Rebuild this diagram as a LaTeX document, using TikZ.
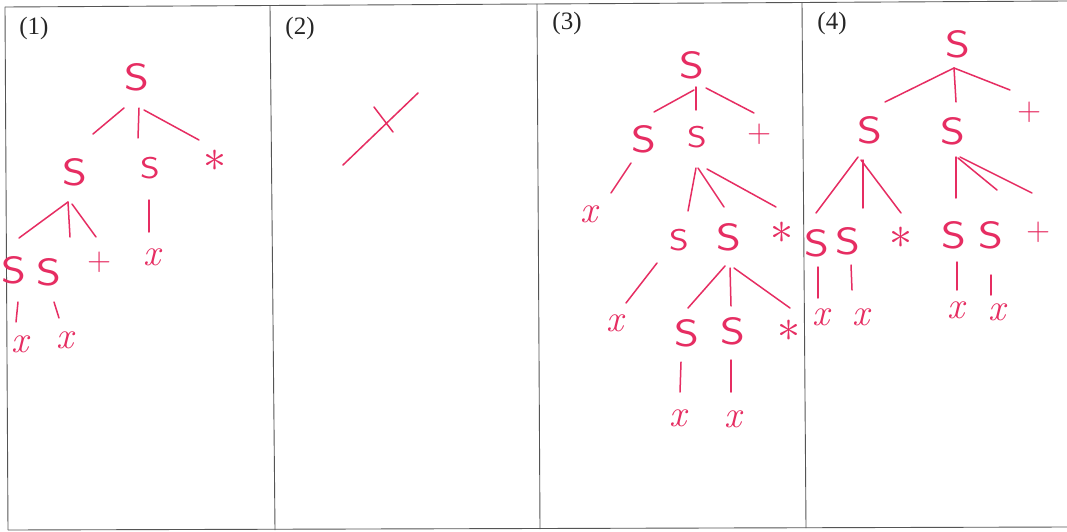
\RequirePackage{fix-cm}
\documentclass[tikz,border=0pt]{standalone}
\usepackage{fontspec}
\newfontfamily\labfont{Liberation Serif}
\newcommand\wideS{\scalebox{1.25}[1]{S}}
\definecolor{pen}{RGB}{230,45,98}
\definecolor{rulegrey}{RGB}{85,85,85}
\begin{document}
\begin{tikzpicture}[x=1pt,y=-1pt,
  every node/.style={inner sep=0pt,text=pen},
  bigS/.style={font=\sffamily\fontsize{38}{38}\selectfont},
  midS/.style={font=\sffamily\fontsize{30}{30}\selectfont},
  xs/.style={font=\itshape\fontsize{38}{38}\selectfont},
  ast/.style={font=\fontsize{46}{46}\selectfont},
  pls/.style={font=\sffamily\fontsize{33}{33}\selectfont},
  lab/.style={font=\labfont\fontsize{25}{25}\selectfont,text=black!85},
  edge/.style={draw=pen,line width=1.5pt,line cap=round},
  tabline/.style={draw=rulegrey,line width=0.9pt}]
\useasboundingbox (0,0) rectangle (1067,532);
\fill[white] (0,0) rectangle (1067,532);
% table
\coordinate (tl) at (5,7);   \coordinate (tr) at (1067,1);
\coordinate (bl) at (8,530); \coordinate (br) at (1067,527);
\draw[tabline] (tl) -- (tr);
\draw[tabline] (bl) -- (br);
\draw[tabline] (tl) -- (bl);
\draw[tabline] (270,6) -- (275,530);
\draw[tabline] (537,4) -- (540,529);
\draw[tabline] (802,3) -- (806,528);
% labels
\node[lab] (L1) at (34,28) {(1)};
\node[lab] (L2) at (300,28) {(2)};
\node[lab] (L3) at (567,23) {(3)};
\node[lab] (L4) at (832,23) {(4)};
% ---------- panel 1
\node[bigS] (a0) at (137,77) {\wideS};
\node[bigS] (a1) at (75,172) {\wideS};
\node[midS] (a2) at (150,168) {\wideS};
\node[ast]  (a3) at (215,161) {$\ast$};
\node[bigS] (a4) at (14,270) {\wideS};
\node[bigS] (a5) at (49,272) {\wideS};
\node[pls]  (a6) at (100,262) {+};
\node[xs]   (a7) at (152,257) {x};
\node[xs]   (a8) at (20,344) {x};
\node[xs]   (a9) at (65,340) {x};
\draw[edge] ([shift={(-13,31)}]a0.center) -- ([shift={(18,-38)}]a1.center);
\draw[edge] ([shift={(2,31)}]a0.center) -- ([shift={(-12,-30)}]a2.center);
\draw[edge] ([shift={(7,33)}]a0.center) -- ([shift={(-16,-21)}]a3.center);
\draw[edge] ([shift={(-7,30)}]a1.center) -- ([shift={(5,-32)}]a4.center);
\draw[edge] ([shift={(-7,30)}]a1.center) -- ([shift={(21,-35)}]a5.center);
\draw[edge] ([shift={(-3,32)}]a1.center) -- ([shift={(-4,-25)}]a6.center);
\draw[edge] ([shift={(-1,32)}]a2.center) -- ([shift={(-3,-25)}]a7.center);
\draw[edge] ([shift={(4,32)}]a4.center) -- ([shift={(-4,-22)}]a8.center);
\draw[edge] ([shift={(5,30)}]a5.center) -- ([shift={(-6,-22)}]a9.center);
% ---------- panel 2
\coordinate (b0) at (343,165);
\coordinate (b1) at (418,93);
\coordinate (b2) at (374,107);
\coordinate (b3) at (393,132);
\draw[edge] (b0) -- (b1);
\draw[edge] (b2) -- (b3);
% ---------- panel 3
\node[bigS] (c0) at (692,65) {\wideS};
\node[bigS] (c1) at (644,139) {\wideS};
\node[midS] (c2) at (697,137) {\wideS};
\node[pls]  (c3) at (760,134) {+};
\node[xs]   (c4) at (589,214) {x};
\node[midS] (c5) at (679,240) {\wideS};
\node[bigS] (c6) at (729,237) {\wideS};
\node[ast]  (c7) at (782,233) {$\ast$};
\node[xs]   (c8) at (615,323) {x};
\node[bigS] (c9) at (687,333) {\wideS};
\node[bigS] (c10) at (733,331) {\wideS};
\node[ast]  (c11) at (789,331) {$\ast$};
\node[xs]   (c12) at (678,418) {x};
\node[xs]   (c13) at (733,419) {x};
\draw[edge] ([shift={(2,25)}]c0.center) -- ([shift={(10,-27)}]c1.center);
\draw[edge] ([shift={(4,22)}]c0.center) -- ([shift={(-1,-27)}]c2.center);
\draw[edge] ([shift={(14,23)}]c0.center) -- ([shift={(-6,-21)}]c3.center);
\draw[edge] ([shift={(-13,24)}]c1.center) -- ([shift={(22,-21)}]c4.center);
\draw[edge] ([shift={(-1,31)}]c2.center) -- ([shift={(9,-29)}]c5.center);
\draw[edge] ([shift={(1,31)}]c2.center) -- ([shift={(-5,-30)}]c6.center);
\draw[edge] ([shift={(10,32)}]c2.center) -- ([shift={(-6,-26)}]c7.center);
\draw[edge] ([shift={(-22,23)}]c5.center) -- ([shift={(11,-20)}]c8.center);
\draw[edge] ([shift={(-4,29)}]c6.center) -- ([shift={(1,-25)}]c9.center);
\draw[edge] ([shift={(1,31)}]c6.center) -- ([shift={(-2,-25)}]c10.center);
\draw[edge] ([shift={(5,31)}]c6.center) -- ([shift={(1,-23)}]c11.center);
\draw[edge] ([shift={(-6,29)}]c9.center) -- ([shift={(2,-26)}]c12.center);
\draw[edge] ([shift={(-2,29)}]c10.center) -- ([shift={(-2,-27)}]c13.center);
% ---------- panel 4
\node[bigS] (d0) at (958,44) {\wideS};
\node[bigS] (d1) at (870,130) {\wideS};
\node[bigS] (d2) at (953,131) {\wideS};
\node[pls]  (d3) at (1030,112) {+};
\node[bigS] (d4) at (817,243) {\wideS};
\node[bigS] (d5) at (848,241) {\wideS};
\node[ast]  (d6) at (901,238) {$\ast$};
\node[bigS] (d7) at (954,235) {\wideS};
\node[bigS] (d8) at (991,235) {\wideS};
\node[pls]  (d9) at (1039,232) {+};
\node[xs]   (d10) at (821,317) {x};
\node[xs]   (d11) at (861,317) {x};
\node[xs]   (d12) at (956,310) {x};
\node[xs]   (d13) at (997,312) {x};
\draw[edge] ([shift={(-4,24)}]d0.center) -- ([shift={(15,-28)}]d1.center);
\draw[edge] ([shift={(-4,24)}]d0.center) -- ([shift={(3,-29)}]d2.center);
\draw[edge] ([shift={(-4,24)}]d0.center) -- ([shift={(-20,-22)}]d3.center);
\draw[edge] ([shift={(-12,27)}]d1.center) -- ([shift={(-1,-30)}]d4.center);
\draw[edge] ([shift={(-7,30)}]d1.center) -- ([shift={(15,-33)}]d5.center);
\draw[edge] ([shift={(-9,30)}]d1.center) -- ([shift={(0,-25)}]d6.center);
\draw[edge] ([shift={(3,26)}]d2.center) -- ([shift={(2,-37)}]d7.center);
\draw[edge] ([shift={(5,27)}]d2.center) -- ([shift={(6,-45)}]d8.center);
\draw[edge] ([shift={(7,26)}]d2.center) -- ([shift={(-7,-39)}]d9.center);
\draw[edge] ([shift={(1,24)}]d4.center) -- ([shift={(-3,-19)}]d10.center);
\draw[edge] ([shift={(3,24)}]d5.center) -- ([shift={(-9,-27)}]d11.center);
\draw[edge] ([shift={(3,27)}]d7.center) -- ([shift={(1,-20)}]d12.center);
\draw[edge] ([shift={(0,40)}]d8.center) -- ([shift={(-6,-17)}]d13.center);
\end{tikzpicture}
\end{document}
